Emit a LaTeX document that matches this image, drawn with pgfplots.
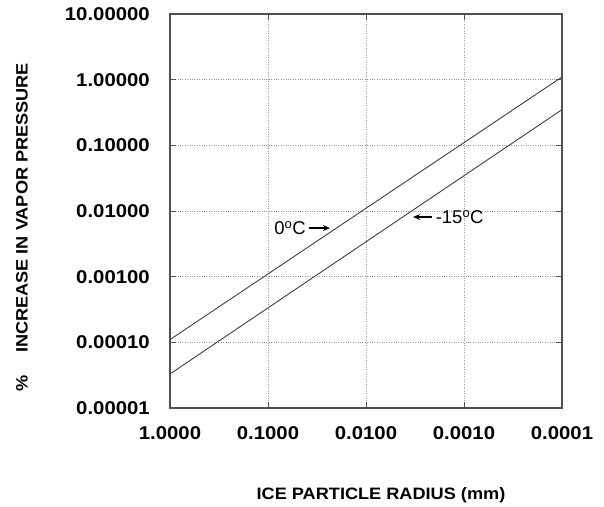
\documentclass[border=0pt]{standalone}
\usepackage{fontspec}
\setmainfont{Liberation Sans}
\newfontfamily\labfont{Liberation Sans}[FakeStretch=1.1]
\usepackage{pgfplots}
\pgfplotsset{compat=1.18}
\usetikzlibrary{arrows.meta,calc}
\definecolor{axline}{HTML}{505050}
\definecolor{curve}{HTML}{404040}
\definecolor{gridc}{HTML}{9A9A9A}
\begin{document}
\begin{tikzpicture}
\begin{axis}[name=ax,
  scale only axis, width=392pt, height=394pt,
  xmode=log, ymode=log, x dir=reverse,
  xmin=1e-4, xmax=1, ymin=1e-5, ymax=10,
  xtick={1e-4,1e-3,1e-2,1e-1,1},
  xticklabels={0.0001,0.0010,0.0100,0.1000,1.0000},
  ytick={1e-5,1e-4,1e-3,1e-2,1e-1,1,10},
  yticklabels={0.00001,0.00010,0.00100,0.01000,0.10000,1.00000,10.00000},
  minor tick style={draw=none},
  tick align=inside, major tick length=6pt,
  tick style={axline, line width=0.8pt},
  axis line style={axline, line width=1.1pt},
  grid=major, grid style={gridc, dotted, line width=0.7pt},
  xticklabel style={font=\labfont\bfseries\fontsize{18.5}{20}\selectfont, inner sep=0pt, anchor=north, yshift=-18pt},
  yticklabel style={font=\labfont\bfseries\fontsize{18.5}{20}\selectfont, inner sep=0pt, anchor=east, xshift=-20pt},
  clip=false,
]
\addplot[curve, line width=0.9pt] coordinates {(1,1.1e-4) (1e-4,1.1)};
\addplot[curve, line width=0.9pt] coordinates {(1,3.3e-5) (1e-4,0.35)};
% annotations
\node[anchor=east, inner sep=0pt, font=\fontsize{18.5}{20}\selectfont] at (axis cs:0.041,5.5e-3) {0\textsuperscript{o}C};
\draw[-{Stealth[length=7pt,width=6pt]}, line width=1.4pt, black] (axis cs:0.0385,5.5e-3) -- (axis cs:0.0233,5.5e-3);
\draw[-{Stealth[length=7pt,width=6pt]}, line width=1.4pt, black] (axis cs:2.12e-3,8.1e-3) -- (axis cs:3.31e-3,8.1e-3);
\node[anchor=west, inner sep=0pt, font=\fontsize{18.5}{20}\selectfont] at (axis cs:1.95e-3,8.1e-3) {-15\textsuperscript{o}C};
\end{axis}
\node[font=\labfont\bfseries\fontsize{16.5}{18}\selectfont] at ($(ax.south west)+(211pt,-87pt)$) {ICE PARTICLE RADIUS (mm)};
\node[rotate=90, font=\labfont\bfseries\fontsize{16.5}{18}\selectfont] at ($(ax.south west)+(-148pt,181pt)$) {\%\hspace{22pt}INCREASE IN VAPOR PRESSURE};
\path ($(ax.south west)+(-170pt,-98pt)$) rectangle ($(ax.north east)+(42pt,14pt)$);
\end{tikzpicture}
\end{document}
